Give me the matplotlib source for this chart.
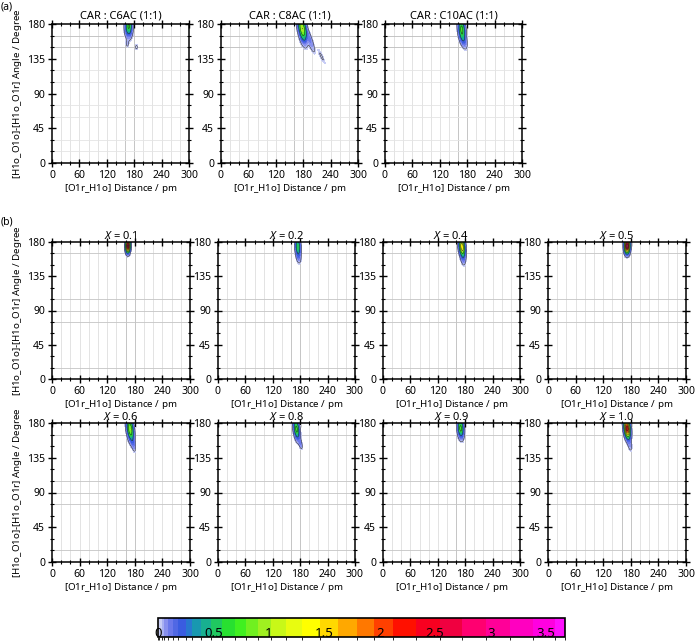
import numpy as np
import matplotlib
matplotlib.use("Agg")
import matplotlib.pyplot as plt
from matplotlib.colors import ListedColormap, BoundaryNorm
from matplotlib.ticker import MultipleLocator
import matplotlib.colorbar as mcolorbar

plt.rcParams['font.family'] = ['Noto Sans', 'DejaVu Sans']
plt.rcParams['mathtext.fontset'] = 'custom'
plt.rcParams['mathtext.rm'] = 'Noto Sans'
plt.rcParams['mathtext.it'] = 'Noto Sans:italic'
plt.rcParams['mathtext.bf'] = 'Noto Sans:bold'

# ---------------- data ----------------
titles_a = ["CAR : C6AC (1:1)", "CAR : C8AC (1:1)", "CAR : C10AC (1:1)"]
mole_fractions = ["0.1", "0.2", "0.4", "0.5", "0.6", "0.8", "0.9", "1.0"]

x_ticks = [0, 60, 120, 180, 240, 300]
y_ticks = [0, 45, 90, 135, 180]
cbar_ticks = [0, 0.5, 1, 1.5, 2, 2.5, 3, 3.5]
cbar_tick_labels = ["0", "0.5", "1", "1.5", "2", "2.5", "3", "3.5"]

# density hot-spots (one list per panel: a1,a2,a3,b1..b8)
blob_cx = [[168, 165, 185], [178, 194, 220], [168, 172],
           [165], [175, 176], [173, 175], [172],
           [170, 176], [172, 180], [170], [172, 177]]
blob_cy = [[177, 155, 150], [174, 160, 138], [173, 160],
           [175], [174, 162], [174, 162], [175],
           [172, 155], [172, 154], [173], [173, 155]]
blob_sx = [[4.0, 2.0, 2.0], [5.0, 6.0, 6.0], [4.0, 4.0],
           [2.5], [3.0, 3.0], [3.5, 3.0], [3.0],
           [4.0, 3.0], [3.5, 2.5], [3.5], [3.5, 3.0]]
blob_sy = [[7.0, 3.0, 2.5], [9.0, 9.0, 7.0], [8.0, 6.0],
           [4.5], [6.0, 5.0], [6.5, 6.0], [5.0],
           [8.0, 6.0], [7.0, 4.0], [6.5], [6.5, 6.0]]
blob_rho = [[0.0, 0.0, 0.0], [-0.5, -0.85, -0.9], [-0.3, -0.5],
            [0.0], [-0.2, -0.3], [-0.3, -0.3], [0.0],
            [-0.4, -0.6], [-0.4, -0.6], [-0.2], [-0.3, -0.5]]
blob_amp = [[0.65, 0.04, 0.03], [1.0, 0.1, 0.025], [0.7, 0.15],
            [2.6], [0.55, 0.12], [1.3, 0.15], [2.8],
            [0.9, 0.12], [0.7, 0.1], [0.7], [2.3, 0.08]]

# colour scale (band boundaries and band colours)
cbar_bounds = [0.0, 0.01, 0.033, 0.057, 0.093, 0.133, 0.18, 0.25, 0.31, 0.39,
               0.48, 0.58, 0.69, 0.79, 0.9, 1.02, 1.15, 1.3, 1.46, 1.62,
               1.79, 1.95, 2.12, 2.33, 2.54, 2.74, 2.96, 3.17, 3.38, 3.58, 3.67]
cbar_colors = ["#e8e8f8", "#c8cdf5", "#a8b0f2", "#8890ee", "#6a78ea", "#5068e4",
               "#3a5ce0", "#2878d0", "#1898b0", "#18b090", "#20c860", "#28e030",
               "#40f020", "#70f020", "#a0f020", "#c8f818", "#e8fc10", "#ffff00",
               "#ffd800", "#ffa800", "#ff7800", "#ff4000", "#ff1000", "#f80020",
               "#f00040", "#ff0070", "#ff0098", "#ff00c0", "#ff00e0", "#ff10ff"]

# ---------------- figure ----------------
W, H = 696, 641
fig = plt.figure(figsize=(W / 100, H / 100), dpi=100)

def rect(x0, y0, x1, y1):
    return [x0 / W, 1 - y1 / H, (x1 - x0) / W, (y1 - y0) / H]

rects = [rect(52, 24, 189, 163), rect(221, 24, 358, 163), rect(385, 24, 522, 163)]
bcols = [(52, 190), (218, 355), (383, 520), (548, 686)]
for (r0, r1) in [(242, 379), (423, 562)]:
    for (c0, c1) in bcols:
        rects.append(rect(c0, r0, c1, r1))

cmap = ListedColormap(cbar_colors)
norm = BoundaryNorm(cbar_bounds, cmap.N)

gx = np.linspace(0, 300, 601)
gy = np.linspace(0, 180, 361)
GX, GY = np.meshgrid(gx, gy)

xlab = r'[O1r_H$\mathbf{1}$o] Distance / pm'
ylab = r'[H$\mathbf{1}$o_O$\mathbf{1}$o]-[H$\mathbf{1}$o_O$\mathbf{1}$r] Angle / Degree'

light_y_a = [15, 30, 60, 75, 105, 120, 150, 165]
dark_y_a = [150, 165]
light_y_b = [15, 75, 90, 105, 165]

for i, r in enumerate(rects):
    ax = fig.add_axes(r)
    ax.set_xlim(0, 300)
    ax.set_ylim(0, 180)
    # grid lines
    for xv in range(20, 300, 20):
        ax.axvline(xv, color='#dedede' if xv not in (160, 180) else '#bcbcbc', lw=0.6, zorder=0)
    if i < 3:
        for yv in light_y_a:
            ax.axhline(yv, color='#bcbcbc' if yv in dark_y_a else '#e4e4e4', lw=0.6, zorder=0)
    else:
        for yv in light_y_b:
            ax.axhline(yv, color='#c4c4c4', lw=0.6, zorder=0)
    # density
    Z = np.zeros_like(GX)
    for cx, cy, sx, sy, rho, amp in zip(blob_cx[i], blob_cy[i], blob_sx[i],
                                         blob_sy[i], blob_rho[i], blob_amp[i]):
        u = (GX - cx) / sx
        v = (GY - cy) / sy
        Z += amp * np.exp(-(u * u - 2 * rho * u * v + v * v) / (2 * (1 - rho * rho)))
    Zm = np.ma.masked_less(Z, cbar_bounds[1])
    ax.contourf(GX, GY, Zm, levels=cbar_bounds[1:], colors=cbar_colors[1:], zorder=2)
    ax.contour(GX, GY, Z, levels=[0.02, 0.25, 0.6, 1.0, 1.5, 2.0, 2.5],
               colors='#202020', linewidths=0.35, zorder=3)
    # axes styling
    for s in ax.spines.values():
        s.set_linewidth(1.1)
        s.set_zorder(5)
    ax.set_xticks(x_ticks)
    ax.set_yticks(y_ticks)
    ax.xaxis.set_minor_locator(MultipleLocator(20))
    ax.yaxis.set_minor_locator(MultipleLocator(15))
    ax.tick_params(which='major', direction='inout', length=6, width=1.0,
                   top=True, right=True, labelsize=7.5, pad=2)
    ax.tick_params(which='minor', direction='inout', length=3, width=0.8,
                   top=True, right=True)
    ax.set_xlabel(xlab, fontsize=7.0, labelpad=0.5)
    if i in (0, 3, 7):
        ax.set_ylabel(ylab, fontsize=7.0, labelpad=2)
    if i < 3:
        ax.set_title(titles_a[i], fontsize=8, pad=4)
    else:
        ax.set_title(r'$\it{X}$ = ' + mole_fractions[i - 3], fontsize=8, pad=2.5)

fig.text(1 / W, 1 - 7 / H, '(a)', fontsize=7.5, va='center', ha='left')
fig.text(1 / W, 1 - 222 / H, '(b)', fontsize=7.5, va='center', ha='left')

# colour bar
cax = fig.add_axes(rect(158, 618, 565, 637))
cb = mcolorbar.ColorbarBase(cax, cmap=cmap, norm=norm, boundaries=cbar_bounds,
                            spacing='proportional', orientation='horizontal')
cb.outline.set_linewidth(1.2)
cax.set_xticks([])
cax.set_xlim(0, 3.67)
for t, lab in zip(cbar_ticks, cbar_tick_labels):
    cax.text(t, 0.2, lab, ha='center', va='center', fontsize=9.5,
             transform=cax.get_xaxis_transform(), clip_on=False)

fig.savefig('out.png', dpi=100)
